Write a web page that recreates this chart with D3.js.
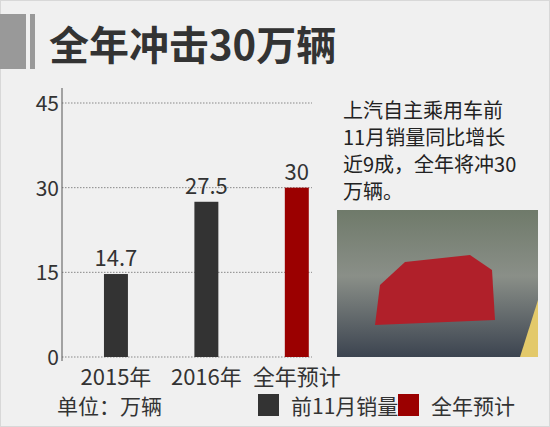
<!DOCTYPE html><html><head><meta charset="utf-8"><script src="https://d3js.org/d3.v7.min.js"></script>
<style>body{margin:0;background:#f0f0f0}</style></head><body><svg id="c" width="550" height="427"></svg>
<script>
const categories=["2015年","2016年","全年预计"];
const values=[14.7,27.5,30];
const seriesOf=["前11月销量","前11月销量","全年预计"];
const yTicks=[0,15,30,45];
const legendLabels=["前11月销量","全年预计"];
const colors={"前11月销量":"#333333","全年预计":"#9b0000"};
const font="'Noto Sans CJK SC',sans-serif";
const svg=d3.select("#c");
svg.append("rect").attr("x",0.5).attr("y",0.5).attr("width",549).attr("height",426).attr("fill","#f0f0f0").attr("stroke","#d8d8d8");
svg.append("rect").attr("x",0).attr("y",14).attr("width",26).attr("height",55).attr("fill","#999");
svg.append("rect").attr("x",30).attr("y",14).attr("width",5).attr("height",55).attr("fill","#999");
svg.append("text").attr("x",49).attr("y",60).attr("font-family",font).attr("font-weight","bold").attr("font-size",40).attr("fill","#333").text("全年冲击30万辆");
const y=d3.scaleLinear().domain([0,45]).range([357,103]);
const x=d3.scaleBand().domain(categories).range([58.75,354]).paddingInner(0.735).paddingOuter(0.5);
const g=svg.append("g");
yTicks.forEach(t=>{
 g.append("line").attr("x1",62).attr("x2",312).attr("y1",y(t)).attr("y2",y(t)).attr("stroke","#888").attr("stroke-dasharray","1.5,1.5");
 g.append("text").attr("x",59).attr("y",y(t)+8).attr("text-anchor","end").attr("font-family",font).attr("font-size",21).attr("fill","#333").text(t);
});
g.append("line").attr("x1",62).attr("x2",62).attr("y1",88).attr("y2",361).attr("stroke","#555");
categories.forEach((c,i)=>{
 g.append("rect").attr("x",x(c)).attr("y",y(values[i])).attr("width",x.bandwidth()).attr("height",y(0)-y(values[i])).attr("fill",colors[seriesOf[i]]);
 g.append("text").attr("x",x(c)+x.bandwidth()/2).attr("y",y(values[i])-8).attr("text-anchor","middle").attr("font-family",font).attr("font-size",22).attr("fill","#333").text(values[i]);
 g.append("text").attr("x",x(c)+x.bandwidth()/2).attr("y",385).attr("text-anchor","middle").attr("font-family",font).attr("font-size",22).attr("fill","#333").text(c);
});
svg.append("text").attr("x",57).attr("y",414).attr("font-family",font).attr("font-size",21).attr("fill","#333").text("单位：万辆");
const lx=[258,398];
legendLabels.forEach((l,i)=>{
 svg.append("rect").attr("x",lx[i]).attr("y",394).attr("width",21).attr("height",22).attr("fill",colors[l]);
 svg.append("text").attr("x",lx[i]+33).attr("y",414).attr("font-family",font).attr("font-size",21).attr("fill","#333").text(l);
});
const lines=["上汽自主乘用车前","11月销量同比增长","近9成，全年将冲30","万辆。"];
lines.forEach((t,i)=>svg.append("text").attr("x",343).attr("y",118+i*27).attr("font-family",font).attr("font-size",20).attr("fill","#222").text(t));
const defs=svg.append("defs");
const gr=defs.append("linearGradient").attr("id","ph").attr("x1",0).attr("y1",0).attr("x2",0).attr("y2",1);
gr.append("stop").attr("offset","0%").attr("stop-color","#6f7a6a");
gr.append("stop").attr("offset","45%").attr("stop-color","#8a8f88");
gr.append("stop").attr("offset","100%").attr("stop-color","#3c4450");
svg.append("rect").attr("x",337).attr("y",210).attr("width",201).attr("height",147).attr("fill","url(#ph)");
svg.append("path").attr("d","M375,325 L380,285 L405,262 L470,255 L492,270 L495,320 Z").attr("fill","#b0202a");
svg.append("path").attr("d","M520,357 L538,300 L538,357 Z").attr("fill","#e3c96a");
</script></body></html>
